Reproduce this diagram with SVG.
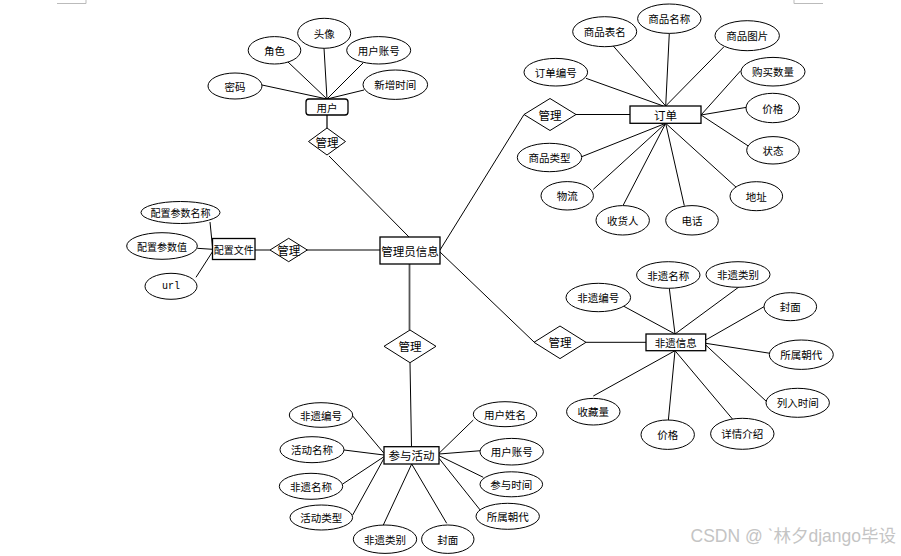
<svg xmlns="http://www.w3.org/2000/svg" width="901" height="556" viewBox="0 0 901 556">
<style>
.a{fill:#fff;stroke:#000;stroke-width:1}
.e{fill:#fff;stroke:#000;stroke-width:1.3}
.t{font-family:"Noto Sans CJK SC","Liberation Sans",sans-serif;font-size:10.5px;fill:#000;text-anchor:middle;dominant-baseline:central}
.tb{font-family:"Noto Sans CJK SC","Liberation Sans",sans-serif;font-size:11.5px;fill:#000;text-anchor:middle;dominant-baseline:central}
.c line{stroke:#000;stroke-width:1}
.g{stroke:#555!important;stroke-width:1.8!important}
.m{stroke:#bbb;stroke-width:1;fill:none}
</style>
<rect width="901" height="556" fill="#fff"/>
<path class="m" d="M57 3.5H86V0M823 3.5H794V0"/>
<g id="connectors" class="c">
<line x1="262" y1="85" x2="327" y2="99"/>
<line x1="288" y1="62" x2="327" y2="99"/>
<line x1="324" y1="48" x2="327" y2="99"/>
<line x1="363" y1="63" x2="327" y2="99"/>
<line x1="364" y1="90" x2="327" y2="99"/>
<line class="g" x1="327" y1="115" x2="327" y2="128"/>
<line x1="329" y1="156" x2="409" y2="237"/>
<line class="g" x1="409.5" y1="264" x2="409.5" y2="330"/>
<line x1="410" y1="363" x2="411.5" y2="447"/>
<line x1="255" y1="250" x2="270" y2="250"/>
<line x1="307" y1="250" x2="380" y2="250"/>
<line x1="440" y1="250" x2="524" y2="114.5"/>
<line x1="440" y1="252" x2="534" y2="342"/>
<line x1="210" y1="222" x2="212.5" y2="247"/>
<line x1="197.3" y1="248.3" x2="212.5" y2="249.3"/>
<line x1="196" y1="277.3" x2="212.5" y2="251.7"/>
<line x1="576" y1="114.5" x2="630" y2="114.5"/>
<line x1="613.3" y1="46" x2="665.7" y2="106"/>
<line x1="669.3" y1="33.3" x2="665.7" y2="106"/>
<line x1="724" y1="46.7" x2="665.7" y2="106"/>
<line x1="586" y1="78.3" x2="663.3" y2="106"/>
<line x1="740.7" y1="70.7" x2="701" y2="115"/>
<line x1="746.7" y1="107.3" x2="701" y2="115"/>
<line x1="748.3" y1="146" x2="701" y2="115"/>
<line x1="737.3" y1="188.3" x2="665.7" y2="123.3"/>
<line x1="684.3" y1="205.7" x2="665.7" y2="123.3"/>
<line x1="623.3" y1="205" x2="665.7" y2="123.3"/>
<line x1="593.3" y1="189.3" x2="665.7" y2="123.3"/>
<line x1="581.7" y1="156.7" x2="665.7" y2="123.3"/>
<line x1="586" y1="342.3" x2="646" y2="342.3"/>
<line x1="669.3" y1="288.3" x2="675" y2="334"/>
<line x1="739.3" y1="286.7" x2="675" y2="334"/>
<line x1="623.3" y1="306" x2="675" y2="334"/>
<line x1="764" y1="306.7" x2="705.7" y2="340"/>
<line x1="770" y1="353.3" x2="705.7" y2="343.3"/>
<line x1="766.7" y1="401.7" x2="705.7" y2="345"/>
<line x1="732.7" y1="419.3" x2="675" y2="350.7"/>
<line x1="668.3" y1="420.7" x2="675" y2="350.7"/>
<line x1="593.3" y1="396" x2="675" y2="350.7"/>
<line x1="352.7" y1="416" x2="384" y2="453.3"/>
<line x1="344" y1="450" x2="384" y2="455"/>
<line x1="342.7" y1="484" x2="384" y2="456.7"/>
<line x1="352.7" y1="515" x2="384" y2="458.3"/>
<line x1="383.3" y1="525" x2="411.7" y2="464"/>
<line x1="446.7" y1="523.3" x2="411.7" y2="464"/>
<line x1="473.3" y1="420" x2="439" y2="453.3"/>
<line x1="480.7" y1="450.7" x2="439" y2="454"/>
<line x1="483.3" y1="477.3" x2="439" y2="455.7"/>
<line x1="480.7" y1="510.7" x2="439" y2="458.3"/>
</g>
<g id="user"><rect class="e" x="306" y="99" width="42" height="16" rx="3"/><text class="t" x="327" y="107">用户</text></g>
<g id="rel-user"><polygon class="a" points="327,128 345.5,141.5 327,155 308.5,141.5"/><text class="tb" x="327" y="141.5">管理</text></g>
<g id="attr-mima"><ellipse class="a" cx="235" cy="86" rx="27" ry="13"/><text class="t" x="235" y="86">密码</text></g>
<g id="attr-juese"><ellipse class="a" cx="274.5" cy="50.3" rx="26.3" ry="13.7"/><text class="t" x="274.5" y="50.3">角色</text></g>
<g id="attr-touxiang"><ellipse class="a" cx="324.2" cy="33.3" rx="26.5" ry="15"/><text class="t" x="324.2" y="33.3">头像</text></g>
<g id="attr-yhzh"><ellipse class="a" cx="378.7" cy="50.3" rx="32" ry="13.7"/><text class="t" x="378.7" y="50.3">用户账号</text></g>
<g id="attr-xzsj"><ellipse class="a" cx="395.3" cy="84.7" rx="32.3" ry="14.7"/><text class="t" x="395.3" y="84.7">新增时间</text></g>
<g id="admin"><rect class="e" x="380" y="237" width="60" height="27"/><text class="tb" x="410" y="250.5">管理员信息</text></g>
<g id="rel-admin-act"><polygon class="a" points="410,330 436,346.3 410,362.7 384,346.3"/><text class="tb" x="410" y="346.3">管理</text></g>
<g id="config"><rect class="e" x="212.5" y="238.5" width="42.5" height="21"/><text class="t" x="233.7" y="249" style="font-size:10px">配置文件</text></g>
<g id="rel-config"><polygon class="a" points="288.7,238.3 307.3,250 288.7,261.7 270,250"/><text class="tb" x="288.7" y="250">管理</text></g>
<g id="attr-pzmc"><ellipse class="a" cx="180.5" cy="212.5" rx="39.5" ry="11"/><text class="t" x="180.5" y="212.5" style="font-size:10px">配置参数名称</text></g>
<g id="attr-pzz"><ellipse class="a" cx="162" cy="246" rx="35.3" ry="13.3"/><text class="t" x="162" y="246" style="font-size:10px">配置参数值</text></g>
<g id="attr-url"><ellipse class="a" cx="171" cy="286.3" rx="26" ry="13"/><text class="t" x="171" y="286.3" style="font-family:'Liberation Mono',monospace;font-size:10px">url</text></g>
<g id="order"><rect class="e" x="630" y="106" width="71" height="17.3"/><text class="tb" x="665.5" y="114.7">订单</text></g>
<g id="rel-order"><polygon class="a" points="550,98.5 576,114.5 550,130.5 524,114.5"/><text class="tb" x="550" y="114.5">管理</text></g>
<g id="attr-spbm"><ellipse class="a" cx="604.7" cy="31.7" rx="32" ry="15"/><text class="t" x="604.7" y="31.7">商品表名</text></g>
<g id="attr-spmc"><ellipse class="a" cx="669.3" cy="18.7" rx="31.7" ry="14.7"/><text class="t" x="669.3" y="18.7">商品名称</text></g>
<g id="attr-sptp"><ellipse class="a" cx="747.2" cy="35.7" rx="32.2" ry="15"/><text class="t" x="747.2" y="35.7">商品图片</text></g>
<g id="attr-ddbh"><ellipse class="a" cx="555.8" cy="72.2" rx="31.8" ry="13.8"/><text class="t" x="555.8" y="72.2">订单编号</text></g>
<g id="attr-gmsl"><ellipse class="a" cx="773" cy="71.7" rx="32" ry="14.3"/><text class="t" x="773" y="71.7">购买数量</text></g>
<g id="attr-jg1"><ellipse class="a" cx="772.7" cy="108" rx="26.7" ry="14.7"/><text class="t" x="772.7" y="108">价格</text></g>
<g id="attr-zt"><ellipse class="a" cx="773" cy="150.3" rx="26.3" ry="13.7"/><text class="t" x="773" y="150.3">状态</text></g>
<g id="attr-dz"><ellipse class="a" cx="756.3" cy="196.2" rx="26.3" ry="14.5"/><text class="t" x="756.3" y="196.2">地址</text></g>
<g id="attr-dh"><ellipse class="a" cx="692" cy="220.3" rx="26.3" ry="14.7"/><text class="t" x="692" y="220.3">电话</text></g>
<g id="attr-shr"><ellipse class="a" cx="622.7" cy="220.3" rx="26.7" ry="14.7"/><text class="t" x="622.7" y="220.3">收货人</text></g>
<g id="attr-wl"><ellipse class="a" cx="567.2" cy="195.8" rx="26.2" ry="14.2"/><text class="t" x="567.2" y="195.8">物流</text></g>
<g id="attr-splx"><ellipse class="a" cx="549.5" cy="157.5" rx="32.2" ry="14.2"/><text class="t" x="549.5" y="157.5">商品类型</text></g>
<g id="heritage"><rect class="e" x="646" y="334" width="59.7" height="16.7"/><text class="t" x="675.8" y="342.3">非遗信息</text></g>
<g id="rel-heritage"><polygon class="a" points="560,326 586,342.3 560,358.6 534,342.3"/><text class="tb" x="560" y="342.3">管理</text></g>
<g id="attr-fymc"><ellipse class="a" cx="668.3" cy="275" rx="31.7" ry="13.3"/><text class="t" x="668.3" y="275">非遗名称</text></g>
<g id="attr-fylb"><ellipse class="a" cx="738" cy="274.5" rx="32" ry="12.8"/><text class="t" x="738" y="274.5">非遗类别</text></g>
<g id="attr-fybh"><ellipse class="a" cx="598.3" cy="297.5" rx="32.3" ry="14.2"/><text class="t" x="598.3" y="297.5">非遗编号</text></g>
<g id="attr-fm1"><ellipse class="a" cx="790.3" cy="306.7" rx="26.3" ry="14"/><text class="t" x="790.3" y="306.7">封面</text></g>
<g id="attr-sscd1"><ellipse class="a" cx="801.3" cy="354.7" rx="32" ry="14.7"/><text class="t" x="801.3" y="354.7">所属朝代</text></g>
<g id="attr-lrsj"><ellipse class="a" cx="797.7" cy="402.8" rx="31.7" ry="14.5"/><text class="t" x="797.7" y="402.8">列入时间</text></g>
<g id="attr-xqjs"><ellipse class="a" cx="742.3" cy="433.8" rx="31.7" ry="15.5"/><text class="t" x="742.3" y="433.8">详情介绍</text></g>
<g id="attr-jg2"><ellipse class="a" cx="667.7" cy="434.7" rx="26.7" ry="14.7"/><text class="t" x="667.7" y="434.7">价格</text></g>
<g id="attr-scl"><ellipse class="a" cx="593.3" cy="411.7" rx="26.7" ry="13.3"/><text class="t" x="593.3" y="411.7">收藏量</text></g>
<g id="activity"><rect class="e" x="384" y="446.7" width="55" height="17.3"/><text class="tb" x="411.5" y="455.3">参与活动</text></g>
<g id="attr-a-fybh"><ellipse class="a" cx="321" cy="415" rx="31.7" ry="12.3"/><text class="t" x="321" y="415">非遗编号</text></g>
<g id="attr-hdmc"><ellipse class="a" cx="312" cy="449.7" rx="32" ry="13"/><text class="t" x="312" y="449.7">活动名称</text></g>
<g id="attr-a-fymc"><ellipse class="a" cx="311" cy="486.3" rx="31.7" ry="13"/><text class="t" x="311" y="486.3">非遗名称</text></g>
<g id="attr-hdlx"><ellipse class="a" cx="321.3" cy="517.5" rx="31.3" ry="12.5"/><text class="t" x="321.3" y="517.5">活动类型</text></g>
<g id="attr-a-fylb"><ellipse class="a" cx="385" cy="539.2" rx="31.7" ry="14.2"/><text class="t" x="385" y="539.2">非遗类别</text></g>
<g id="attr-a-fm"><ellipse class="a" cx="447.8" cy="539.2" rx="26.2" ry="14.2"/><text class="t" x="447.8" y="539.2">封面</text></g>
<g id="attr-yhxm"><ellipse class="a" cx="505" cy="414.2" rx="31.7" ry="12.5"/><text class="t" x="505" y="414.2">用户姓名</text></g>
<g id="attr-a-yhzh"><ellipse class="a" cx="511.7" cy="451.7" rx="31.7" ry="13.3"/><text class="t" x="511.7" y="451.7">用户账号</text></g>
<g id="attr-cysj"><ellipse class="a" cx="511.3" cy="484.3" rx="31.3" ry="12.5"/><text class="t" x="511.3" y="484.3">参与时间</text></g>
<g id="attr-a-sscd"><ellipse class="a" cx="507.7" cy="516.3" rx="31.7" ry="13"/><text class="t" x="507.7" y="516.3">所属朝代</text></g>
<text x="896" y="541.5" style="font-family:'Liberation Sans','Noto Sans CJK SC',sans-serif;font-size:17.5px;fill:#c4c4c4;text-anchor:end">CSDN @  ˋ林夕django毕设</text>
</svg>
